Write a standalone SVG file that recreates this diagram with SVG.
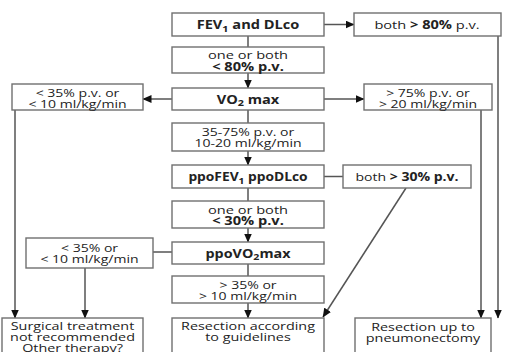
<svg xmlns="http://www.w3.org/2000/svg" width="505" height="352" viewBox="0 0 505 352">
<defs>
<style>
.box{fill:#fff;stroke:#707070;stroke-width:1.4}
.ln{fill:none;stroke:#555;stroke-width:1.5}
text{font-family:"Open Sans","Noto Sans","DejaVu Sans",sans-serif;font-size:11.5px;fill:#222;text-anchor:middle}
.b{font-weight:bold}
.sub{font-size:8.5px}
</style>
<marker id="ah" markerWidth="9" markerHeight="8" refX="8.5" refY="4" orient="auto" markerUnits="userSpaceOnUse">
<path d="M0,0 L9,4 L0,8 Z" fill="#111"/>
</marker>
</defs>
<rect width="505" height="352" fill="#fff"/>

<g id="connectors">
<line class="ln" x1="248" y1="36" x2="248" y2="47"/>
<line class="ln" x1="248" y1="73" x2="248" y2="88" marker-end="url(#ah)"/>
<line class="ln" x1="248" y1="110" x2="248" y2="123"/>
<line class="ln" x1="248" y1="151" x2="248" y2="165" marker-end="url(#ah)"/>
<line class="ln" x1="248" y1="188" x2="248" y2="201"/>
<line class="ln" x1="248" y1="228" x2="248" y2="242" marker-end="url(#ah)"/>
<line class="ln" x1="248" y1="264" x2="248" y2="276"/>
<line class="ln" x1="248" y1="303" x2="248" y2="318" marker-end="url(#ah)"/>
<line class="ln" x1="324" y1="24.5" x2="354" y2="24.5" marker-end="url(#ah)"/>
<line class="ln" x1="172" y1="99" x2="143" y2="99" marker-end="url(#ah)"/>
<line class="ln" x1="324" y1="99" x2="364" y2="99" marker-end="url(#ah)"/>
<line class="ln" x1="15" y1="110" x2="15" y2="318" marker-end="url(#ah)"/>
<line class="ln" x1="153" y1="252" x2="172" y2="252"/>
<line class="ln" x1="85" y1="268" x2="85" y2="318" marker-end="url(#ah)"/>
<line class="ln" x1="324" y1="176.5" x2="343" y2="176.5"/>
<line class="ln" x1="406" y1="188" x2="323" y2="317" marker-end="url(#ah)"/>
<line class="ln" x1="481" y1="110" x2="481" y2="318" marker-end="url(#ah)"/>
<line class="ln" x1="498" y1="36" x2="498" y2="318" marker-end="url(#ah)"/>
</g>

<g id="n-fev">
<rect class="box" x="172" y="13" width="152" height="23"/>
<text class="b" x="0" y="29.5" transform="matrix(1.27 0 0 1 248 0)">FEV<tspan class="sub" dy="2.5">1</tspan><tspan dy="-2.5"> and DLco</tspan></text>
</g>
<g id="n-both80">
<rect class="box" x="354" y="13" width="147" height="23"/>
<text x="0" y="29.5" transform="matrix(1.27 0 0 1 427 0)">both <tspan class="b">&gt; 80%</tspan> p.v.</text>
</g>
<g id="n-one80">
<rect class="box" x="172" y="47" width="152" height="26"/>
<text x="0" y="59.5" transform="matrix(1.27 0 0 1 248 0)">one or both</text>
<text class="b" x="0" y="70.7" transform="matrix(1.27 0 0 1 248 0)">&lt; 80% p.v.</text>
</g>
<g id="n-vo2">
<rect class="box" x="172" y="88" width="152" height="22"/>
<text class="b" x="0" y="104" transform="matrix(1.27 0 0 1 248 0)">VO<tspan class="sub" dy="2.5">2</tspan><tspan dy="-2.5"> max</tspan></text>
</g>
<g id="n-lt35a">
<rect class="box" x="12" y="84" width="131" height="26"/>
<text x="0" y="97.3" transform="matrix(1.22 0 0 1 77.5 0)">&lt; 35% p.v. or</text>
<text x="0" y="108.3" transform="matrix(1.22 0 0 1 77.5 0)">&lt; 10 ml/kg/min</text>
</g>
<g id="n-gt75">
<rect class="box" x="364" y="84" width="128" height="26"/>
<text x="0" y="97.3" transform="matrix(1.22 0 0 1 428 0)">&gt; 75% p.v. or</text>
<text x="0" y="108.3" transform="matrix(1.22 0 0 1 428 0)">&gt; 20 ml/kg/min</text>
</g>
<g id="n-mid">
<rect class="box" x="172" y="123" width="152" height="28"/>
<text x="0" y="136.5" transform="matrix(1.22 0 0 1 248 0)">35-75% p.v. or</text>
<text x="0" y="147.5" transform="matrix(1.22 0 0 1 248 0)">10-20 ml/kg/min</text>
</g>
<g id="n-ppofev">
<rect class="box" x="172" y="165" width="152" height="23"/>
<text class="b" x="0" y="181.5" transform="matrix(1.2 0 0 1 248 0)">ppoFEV<tspan class="sub" dy="2.5">1</tspan><tspan dy="-2.5"> ppoDLco</tspan></text>
</g>
<g id="n-both30">
<rect class="box" x="343" y="165" width="128" height="23"/>
<text x="0" y="181.5" transform="matrix(1.22 0 0 1 407 0)">both <tspan class="b">&gt; 30% p.v.</tspan></text>
</g>
<g id="n-one30">
<rect class="box" x="172" y="201" width="152" height="27"/>
<text x="0" y="214" transform="matrix(1.27 0 0 1 248 0)">one or both</text>
<text class="b" x="0" y="225.2" transform="matrix(1.27 0 0 1 248 0)">&lt; 30% p.v.</text>
</g>
<g id="n-ppovo2">
<rect class="box" x="172" y="242" width="152" height="22"/>
<text class="b" x="0" y="258" transform="matrix(1.25 0 0 1 248 0)">ppoVO<tspan class="sub" dy="2.5">2</tspan><tspan dy="-2.5">max</tspan></text>
</g>
<g id="n-lt35b">
<rect class="box" x="26" y="238" width="127" height="30"/>
<text x="0" y="251.7" transform="matrix(1.22 0 0 1 89.5 0)">&lt; 35% or</text>
<text x="0" y="263.3" transform="matrix(1.22 0 0 1 89.5 0)">&lt; 10 ml/kg/min</text>
</g>
<g id="n-gt35">
<rect class="box" x="172" y="276" width="152" height="27"/>
<text x="0" y="289" transform="matrix(1.22 0 0 1 248 0)">&gt; 35% or</text>
<text x="0" y="300.2" transform="matrix(1.22 0 0 1 248 0)">&gt; 10 ml/kg/min</text>
</g>
<g id="n-surg">
<rect class="box" x="2" y="318" width="141" height="40"/>
<text x="0" y="330" transform="matrix(1.25 0 0 1 72.5 0)">Surgical treatment</text>
<text x="0" y="341" transform="matrix(1.25 0 0 1 72.5 0)">not recommended</text>
<text x="0" y="352" transform="matrix(1.25 0 0 1 72.5 0)">Other therapy?</text>
</g>
<g id="n-guide">
<rect class="box" x="172" y="318" width="152" height="40"/>
<text x="0" y="330" transform="matrix(1.25 0 0 1 248 0)">Resection according</text>
<text x="0" y="341" transform="matrix(1.25 0 0 1 248 0)">to guidelines</text>
</g>
<g id="n-pneu">
<rect class="box" x="355" y="318" width="136" height="40"/>
<text x="0" y="331" transform="matrix(1.25 0 0 1 423 0)">Resection up to</text>
<text x="0" y="342" transform="matrix(1.25 0 0 1 423 0)">pneumonectomy</text>
</g>
</svg>
